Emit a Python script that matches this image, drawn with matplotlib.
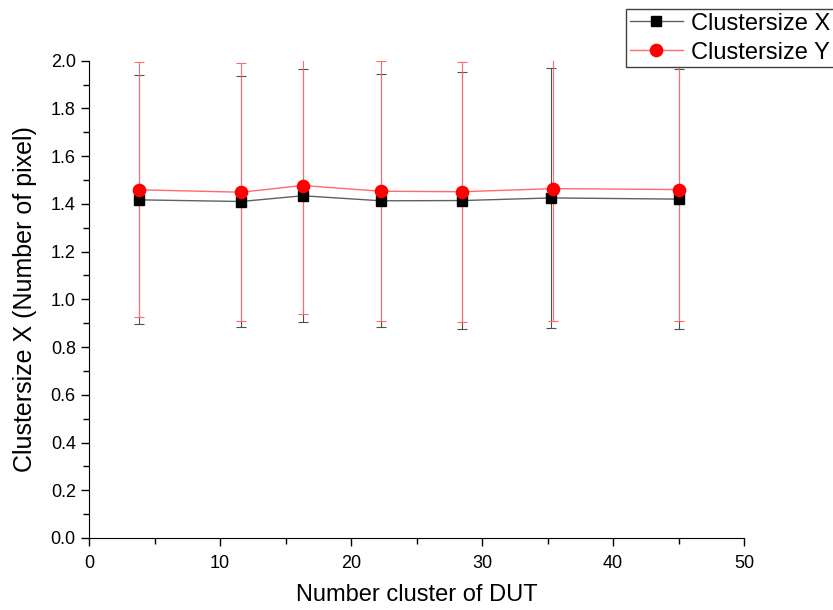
import matplotlib.pyplot as plt
from matplotlib.ticker import MultipleLocator, FormatStrFormatter

plt.rcParams['font.family'] = ['Liberation Sans', 'DejaVu Sans']

# data
dut_clusters = [3.8, 11.6, 16.3, 22.3, 28.5, 35.3, 45.0]
dut_clusters_y = [3.8, 11.6, 16.3, 22.3, 28.5, 35.45, 45.0]
size_x = [1.417, 1.410, 1.434, 1.413, 1.414, 1.425, 1.420]
size_x_err = [0.522, 0.527, 0.530, 0.530, 0.540, 0.546, 0.545]
size_y = [1.459, 1.449, 1.477, 1.453, 1.451, 1.464, 1.460]
size_y_err = [0.535, 0.541, 0.540, 0.545, 0.545, 0.555, 0.550]

fig = plt.figure(figsize=(8.33, 6.1), dpi=100)
ax = fig.add_axes([89 / 833, 1 - 538 / 610, (744 - 89) / 833, (538 - 60.7) / 610])

# Clustersize X: grey line, black squares
ax.errorbar(dut_clusters, size_x, yerr=size_x_err, fmt='none', ecolor='#505050',
            elinewidth=0.8, capsize=3.6, capthick=0.8, zorder=2)
line_x, = ax.plot(dut_clusters, size_x, color='#606060', lw=1.0, marker='s',
                  markersize=7.7, markerfacecolor='black', markeredgecolor='black',
                  label='Clustersize X', zorder=3)

# Clustersize Y: light red line, red circles
ax.errorbar(dut_clusters_y, size_y, yerr=size_y_err, fmt='none', ecolor='#ff6a6a',
            elinewidth=0.8, capsize=3.6, capthick=0.8, zorder=2)
line_y, = ax.plot(dut_clusters_y, size_y, color='#ff6a6a', lw=1.0, marker='o',
                  markersize=8.8, markerfacecolor='red', markeredgecolor='red',
                  label='Clustersize Y', zorder=4)

ax.set_xlim(0, 50)
ax.set_ylim(0, 2.0)
ax.xaxis.set_major_locator(MultipleLocator(10))
ax.xaxis.set_minor_locator(MultipleLocator(5))
ax.yaxis.set_major_locator(MultipleLocator(0.2))
ax.yaxis.set_minor_locator(MultipleLocator(0.1))
ax.yaxis.set_major_formatter(FormatStrFormatter('%.1f'))

ax.spines['top'].set_visible(False)
ax.spines['right'].set_visible(False)
ax.tick_params(which='major', direction='out', length=6, width=1, labelsize=13)
ax.tick_params(axis='x', which='major', pad=6)
ax.tick_params(which='minor', direction='out', length=4, width=1)

ax.set_xlabel('Number cluster of DUT', fontsize=17, labelpad=9)
ax.set_ylabel('Clustersize X (Number of pixel)', fontsize=18, labelpad=10)

fig.legend(handles=[line_x, line_y], loc='upper left',
           bbox_to_anchor=(626 / 833, 1 - 9 / 610), bbox_transform=fig.transFigure,
           fontsize=17, frameon=True, fancybox=False, edgecolor='#404040',
           framealpha=1, borderpad=0.15, labelspacing=0.3, handlelength=2.25,
           handletextpad=0.35, borderaxespad=0)

plt.savefig('out.png', dpi=100)
